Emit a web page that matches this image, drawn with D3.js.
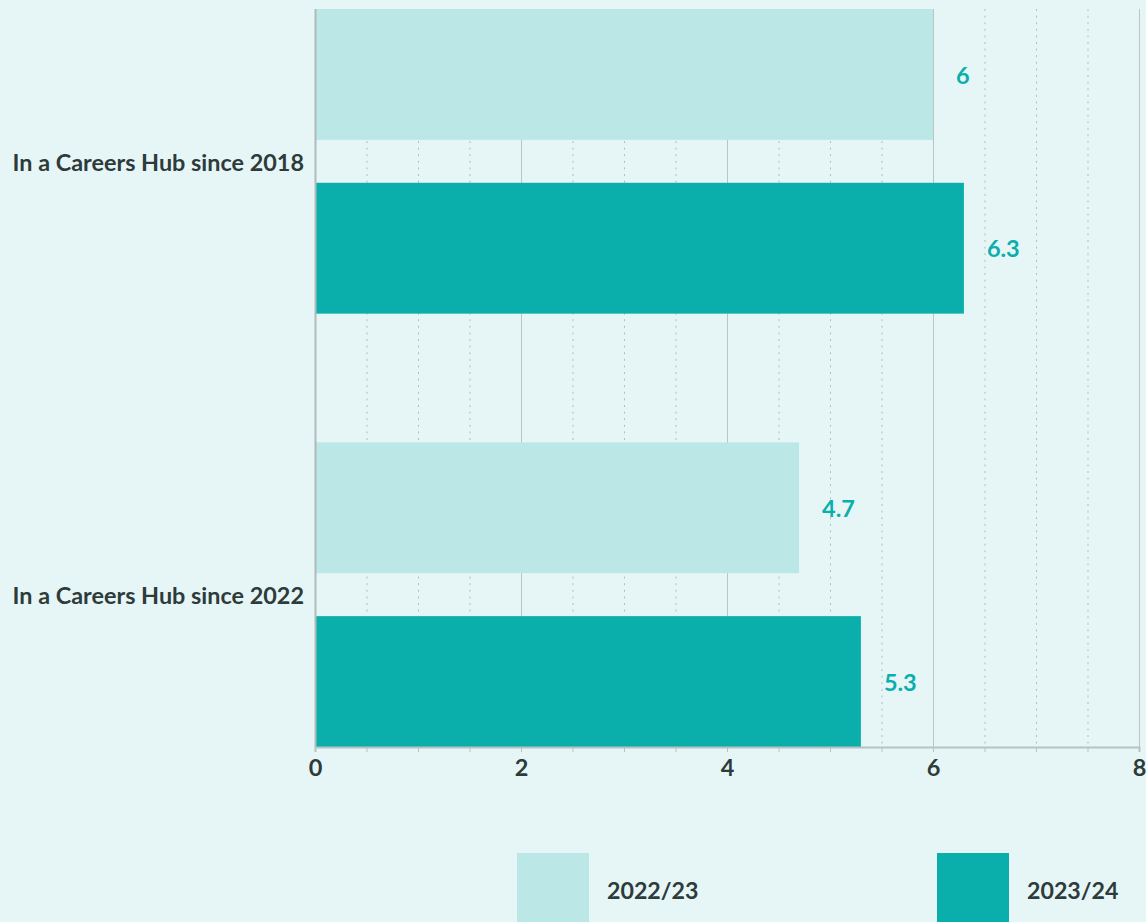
<!DOCTYPE html>
<html>
<head>
<meta charset="utf-8">
<script src="https://cdn.jsdelivr.net/npm/d3@7"></script>
<style>
html,body{margin:0;padding:0;background:#e6f6f6;}
svg{display:block;}
text{font-family:Lato,"Open Sans",sans-serif;}
</style>
</head>
<body>
<svg id="chart" width="1146" height="922"></svg>
<script>
const categories = ["In a Careers Hub since 2018", "In a Careers Hub since 2022"];
const seriesNames = ["2022/23", "2023/24"];
const values2022_23 = [6, 4.7];
const values2023_24 = [6.3, 5.3];
const xTicks = [0, 2, 4, 6, 8];
const colors = ["#bbe7e6", "#0aafab"];

(function () {
const seriesValues = [values2022_23, values2023_24];
const data = categories.map((c, i) => ({cat: c, vals: seriesValues.map((s, j) => ({name: seriesNames[j], v: s[i], j}))}));

const svg = d3.select("#chart");
const W = 1146, H = 922;
svg.append("rect").attr("width", W).attr("height", H).attr("fill", "#e6f6f6");

const x = d3.scaleLinear().domain([0, 8]).range([315, 1139]);
const y0 = d3.scaleBand().domain(categories).range([9, 747]).paddingInner(0.297).paddingOuter(0);
const y1 = d3.scaleBand().domain(seriesNames).range([0, y0.bandwidth()]).paddingInner(0.247);

const g = svg.append("g");
const plotTop = 9, plotBottom = 747;

const minor = d3.range(0.5, 8, 0.5).filter(v => v % 2 !== 0);
g.selectAll("line.minor").data(minor).join("line")
  .attr("x1", d => x(d) + 0.5).attr("x2", d => x(d) + 0.5)
  .attr("y1", plotTop).attr("y2", plotBottom)
  .attr("stroke", "#b4bcbc").attr("stroke-width", 1).attr("stroke-dasharray", "2,4.6");
g.selectAll("line.major").data(xTicks.filter(d => d > 0)).join("line")
  .attr("x1", d => x(d) + 0.5).attr("x2", d => x(d) + 0.5)
  .attr("y1", plotTop).attr("y2", plotBottom)
  .attr("stroke", "#bcc4c4").attr("stroke-width", 1);

const grp = g.selectAll("g.cat").data(data).join("g")
  .attr("transform", d => `translate(0,${y0(d.cat)})`);
grp.selectAll("rect").data(d => d.vals).join("rect")
  .attr("x", x(0)).attr("y", d => y1(d.name))
  .attr("width", d => x(d.v) - x(0)).attr("height", y1.bandwidth())
  .attr("fill", d => colors[d.j]);
grp.selectAll("text.val").data(d => d.vals).join("text")
  .attr("x", d => x(d.v) + 23).attr("y", d => y1(d.name) + y1.bandwidth() / 2 + 1)
  .attr("dy", "0.35em").attr("fill", "#0aafab")
  .attr("font-size", 23.5).attr("font-weight", 700)
  .text(d => d.v);

g.append("line").attr("x1", x(0) + 0.5).attr("x2", x(0) + 0.5).attr("y1", plotTop).attr("y2", plotBottom)
  .attr("stroke", "#b0baba").attr("stroke-width", 2);

const axis = d3.axisBottom(x).tickValues(d3.range(0, 8.01, 0.5)).tickSize(5)
  .tickFormat(d => xTicks.includes(d) ? d : "");
const ax = svg.append("g").attr("transform", `translate(0,${plotBottom})`).call(axis);
ax.select(".domain").attr("stroke", "#b8c2c2").attr("stroke-width", 2);
ax.selectAll(".tick line").attr("stroke", "#b8c2c2");
ax.selectAll(".tick text").attr("fill", "#2e3b3b").attr("font-size", 23.5).attr("font-weight", 700)
  .attr("font-family", "Lato, sans-serif").attr("dy", "0.9em");

svg.selectAll("text.cat").data(categories).join("text")
  .attr("x", 304).attr("y", d => y0(d) + y0.bandwidth() / 2 + 1.5)
  .attr("dy", "0.35em").attr("text-anchor", "end")
  .attr("fill", "#2e3b3b").attr("font-size", 23.4).attr("font-weight", 700)
  .text(d => d);

const legendX = [517, 937];
const lg = svg.selectAll("g.leg").data(seriesNames).join("g")
  .attr("transform", (d, i) => `translate(${legendX[i]},853)`);
lg.append("rect").attr("width", 72).attr("height", 75).attr("fill", (d, i) => colors[i]);
lg.append("text").attr("x", 90).attr("y", 38).attr("dy", "0.35em")
  .attr("fill", "#2e3b3b").attr("font-size", 23.2).attr("font-weight", 700).text(d => d);
})();
</script>
</body>
</html>
